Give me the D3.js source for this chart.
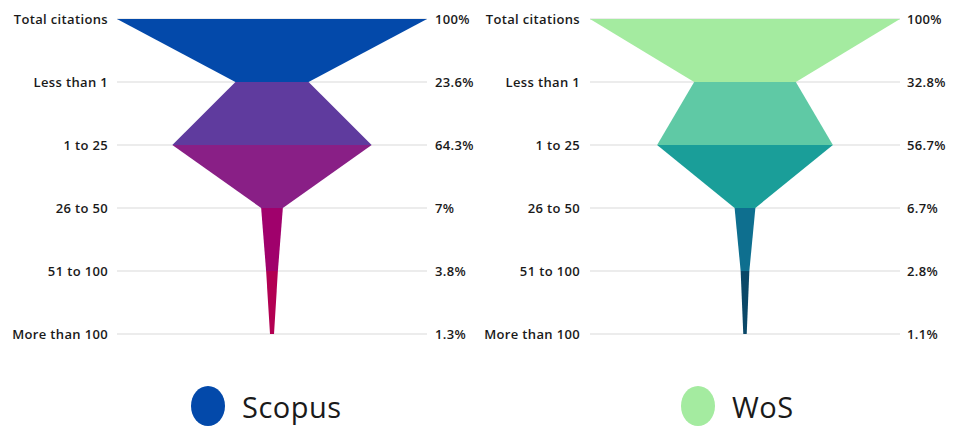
<!DOCTYPE html>
<html><head><meta charset="utf-8">
<script src="https://cdn.jsdelivr.net/npm/d3@7/dist/d3.min.js"></script>
<style>body{margin:0;background:#fff}svg{display:block}</style>
</head><body>
<svg id="c" width="955" height="428"></svg>
<script>
const categories = ["Total citations","Less than 1","1 to 25","26 to 50","51 to 100","More than 100"];
const scopusValues = [100, 23.6, 64.3, 7, 3.8, 1.3];
const wosValues = [100, 32.8, 56.7, 6.7, 2.8, 1.1];
const valueLabelsScopus = ["100%","23.6%","64.3%","7%","3.8%","1.3%"];
const valueLabelsWos = ["100%","32.8%","56.7%","6.7%","2.8%","1.1%"];
const seriesNames = ["Scopus","WoS"];
const scopusColors = ["#0349aa","#5f3b9e","#891f86","#a0016c","#b20052"];
const wosColors = ["#a4eba0","#5fc9a5","#1a9e99","#0e6f8f","#0b4868"];

const svg = d3.select("#c");
const y = d3.scalePoint().domain(categories).range([19, 334]);

function funnel(values, labels, colors, left, right, labelX, valueX) {
  const cx = (left + right) / 2;
  const w = d3.scaleLinear().domain([0, 100]).range([0, (right - left) / 2]);
  const g = svg.append("g");
  g.selectAll("line.grid").data(categories).join("line")
    .attr("x1", left).attr("x2", right)
    .attr("y1", d => y(d)).attr("y2", d => y(d))
    .attr("stroke", "#e6e6e6").attr("stroke-width", 1.3);
  const segs = d3.range(values.length - 1).map(i => ({i, a: values[i], b: values[i+1], ya: y(categories[i]), yb: y(categories[i+1])}));
  g.selectAll("path.seg").data(segs).join("path")
    .attr("d", s => `M${cx - w(s.a)},${s.ya}L${cx + w(s.a)},${s.ya}L${cx + w(s.b)},${s.yb}L${cx - w(s.b)},${s.yb}Z`)
    .attr("fill", s => colors[s.i]);
  g.selectAll("text.cat").data(categories).join("text")
    .attr("x", labelX).attr("y", d => y(d)).attr("dy", "0.35em")
    .attr("text-anchor", "end")
    .attr("font-family", "'Open Sans', sans-serif").attr("font-weight", 600)
    .attr("font-size", 13).attr("letter-spacing", 0.35).attr("fill", "#1a1a1a")
    .text(d => d);
  g.selectAll("text.val").data(labels).join("text")
    .attr("x", valueX).attr("y", (d, i) => y(categories[i])).attr("dy", "0.35em")
    .attr("text-anchor", "start")
    .attr("font-family", "'Open Sans', sans-serif").attr("font-weight", 600)
    .attr("font-size", 13).attr("letter-spacing", 0.35).attr("fill", "#1a1a1a")
    .text(d => d);
}

funnel(scopusValues, valueLabelsScopus, scopusColors, 117, 427, 108, 435);
funnel(wosValues, valueLabelsWos, wosColors, 590, 900, 580, 907);

const legend = [{name: seriesNames[0], color: scopusColors[0], x: 208}, {name: seriesNames[1], color: wosColors[0], x: 698}];
const lg = svg.append("g");
lg.selectAll("ellipse").data(legend).join("ellipse")
  .attr("cx", d => d.x).attr("cy", 406).attr("rx", 17).attr("ry", 20)
  .attr("fill", d => d.color);
lg.selectAll("text").data(legend).join("text")
  .attr("x", d => d.x + 34).attr("y", 408).attr("dy", "0.35em")
  .attr("font-family", "'Open Sans', sans-serif").attr("font-weight", 500)
  .attr("font-size", 29).attr("letter-spacing", 0.5).attr("fill", "#1a1a1a")
  .text(d => d.name);
</script>
</body></html>
